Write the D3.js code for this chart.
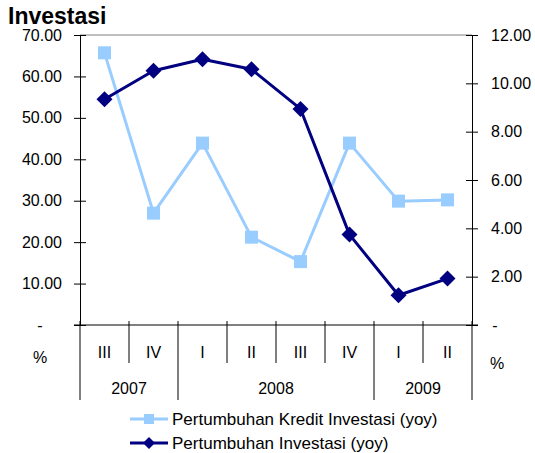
<!DOCTYPE html>
<html>
<head>
<meta charset="utf-8">
<script src="https://cdn.jsdelivr.net/npm/d3@7"></script>
<style>
  html, body { margin: 0; padding: 0; background: #fff; }
  svg { display: block; font-family: "Liberation Sans", Arial, sans-serif; }
</style>
</head>
<body>
<svg id="chart" width="535" height="453"></svg>
<script>
// Quarterly periods (2007 Q3 – 2009 Q2)
const quarters = ["III", "IV", "I", "II", "III", "IV", "I", "II"];
const years = [
  { label: "2007", from: 0, to: 2 },
  { label: "2008", from: 2, to: 6 },
  { label: "2009", from: 6, to: 8 }
];
// Investment credit growth, % yoy (left axis)
const kreditInvestasi = [65.7, 27.0, 43.9, 21.2, 15.3, 43.9, 29.9, 30.2];
// Investment growth, % yoy (right axis)
const investasi = [9.34, 10.52, 11.0, 10.58, 8.94, 3.74, 1.23, 1.92];
const leftTicks = [0, 10, 20, 30, 40, 50, 60, 70];
const rightTicks = [0, 2, 4, 6, 8, 10, 12];
const seriesNames = ["Pertumbuhan Kredit Investasi (yoy)", "Pertumbuhan Investasi (yoy)"];

const colKredit = "#99ccff";
const colInv = "#000080";
const fs = 16;

const svg = d3.select("#chart");
const L = 80, R = 472, T = 35, B = 325;

const x = d3.scaleBand().domain(d3.range(quarters.length)).range([L, R]).padding(0);
const cx = i => x(i) + x.bandwidth() / 2;
const yL = d3.scaleLinear().domain([0, 70]).range([B, T]);
const yR = d3.scaleLinear().domain([0, 12]).range([B, T]);

// Title (second line of a wrapped heading)
svg.append("text").attr("x", 8).attr("y", 24)
  .attr("font-size", 23).attr("font-weight", "bold").attr("fill", "#000")
  .text("Investasi");

// Top frame line
svg.append("line").attr("x1", L).attr("x2", R).attr("y1", T).attr("y2", T)
  .attr("stroke", "#808080").attr("stroke-width", 1);

const fmt = d => d === 0 ? "-" : d3.format(".2f")(d);

// Left axis
const gL = svg.append("g").attr("transform", `translate(${L},0)`)
  .call(d3.axisLeft(yL).tickValues(leftTicks).tickFormat(fmt).tickSizeOuter(0).tickSize(6).tickPadding(12));
gL.selectAll(".tick line").attr("x2", -6).attr("x1", 6);
gL.selectAll(".tick text").attr("font-size", fs).attr("font-family", "Liberation Sans, Arial, sans-serif").attr("fill", "#000");
gL.selectAll(".tick").filter(d => d === 0).select("text").attr("text-anchor", "middle").attr("x", 40 - L);

// Right axis
const gR = svg.append("g").attr("transform", `translate(${R},0)`)
  .call(d3.axisRight(yR).tickValues(rightTicks).tickFormat(fmt).tickSizeOuter(0).tickSize(6).tickPadding(13));
gR.selectAll(".tick line").attr("x1", -6).attr("x2", 6);
gR.selectAll(".tick text").attr("font-size", fs).attr("font-family", "Liberation Sans, Arial, sans-serif").attr("fill", "#000");
gR.selectAll(".tick").filter(d => d === 0).select("text").attr("text-anchor", "middle").attr("x", 495 - R);

// Category axis baseline
svg.append("line").attr("x1", L - 6).attr("x2", R + 6).attr("y1", B).attr("y2", B)
  .attr("stroke", "#000").attr("stroke-width", 1);

// Category separators: short for quarters, long at year boundaries
const boundaries = d3.range(quarters.length + 1);
const yearEdges = new Set(years.flatMap(y => [y.from, y.to]));
svg.append("g").selectAll("line").data(boundaries).join("line")
  .attr("x1", i => i < quarters.length ? x(i) : x.range()[1])
  .attr("x2", i => i < quarters.length ? x(i) : x.range()[1])
  .attr("y1", B - 4)
  .attr("y2", i => yearEdges.has(i) ? 400 : 363)
  .attr("stroke", "#000").attr("stroke-width", 1);

svg.append("g").selectAll("text").data(quarters).join("text")
  .attr("x", (d, i) => cx(i)).attr("y", 358)
  .attr("text-anchor", "middle").attr("font-size", fs).attr("fill", "#000")
  .text(d => d);

svg.append("g").selectAll("text").data(years).join("text")
  .attr("x", d => (x(d.from) + (d.to < quarters.length ? x(d.to) : R)) / 2).attr("y", 394)
  .attr("text-anchor", "middle").attr("font-size", fs).attr("fill", "#000")
  .text(d => d.label);

// Unit labels
svg.append("text").attr("x", 40).attr("y", 363).attr("text-anchor", "middle").attr("font-size", fs).text("%");
svg.append("text").attr("x", 497).attr("y", 369).attr("text-anchor", "middle").attr("font-size", fs).text("%");

// Series lines
const lineK = d3.line().x((d, i) => cx(i)).y(d => yL(d));
const lineI = d3.line().x((d, i) => cx(i)).y(d => yR(d));

svg.append("path").attr("d", lineK(kreditInvestasi)).attr("fill", "none")
  .attr("stroke", colKredit).attr("stroke-width", 3).attr("stroke-linejoin", "round");
svg.append("path").attr("d", lineI(investasi)).attr("fill", "none")
  .attr("stroke", colInv).attr("stroke-width", 3).attr("stroke-linejoin", "round");

const sq = 13, dm = 8;
svg.append("g").selectAll("rect").data(kreditInvestasi).join("rect")
  .attr("x", (d, i) => cx(i) - sq / 2).attr("y", d => yL(d) - sq / 2)
  .attr("width", sq).attr("height", sq).attr("fill", colKredit);

const diamond = (px, py, r) => `M${px},${py - r}L${px + r},${py}L${px},${py + r}L${px - r},${py}Z`;
svg.append("g").selectAll("path").data(investasi).join("path")
  .attr("d", (d, i) => diamond(cx(i), yR(d), dm)).attr("fill", colInv);

// Legend
const legend = [
  { name: seriesNames[0], color: colKredit, y: 419, shape: "square" },
  { name: seriesNames[1], color: colInv, y: 443, shape: "diamond" }
];
const lg = svg.append("g").selectAll("g").data(legend).join("g");
lg.append("line").attr("x1", 130).attr("x2", 168).attr("y1", d => d.y).attr("y2", d => d.y)
  .attr("stroke", d => d.color).attr("stroke-width", 3);
lg.filter(d => d.shape === "square").append("rect")
  .attr("x", 149 - 5).attr("y", d => d.y - 5).attr("width", 10).attr("height", 10).attr("fill", d => d.color);
lg.filter(d => d.shape === "diamond").append("path")
  .attr("d", d => diamond(149, d.y, 6)).attr("fill", d => d.color);
lg.append("text").attr("x", 172).attr("y", d => d.y + 6).attr("font-size", 17).attr("fill", "#000")
  .text(d => d.name);
</script>
</body>
</html>
